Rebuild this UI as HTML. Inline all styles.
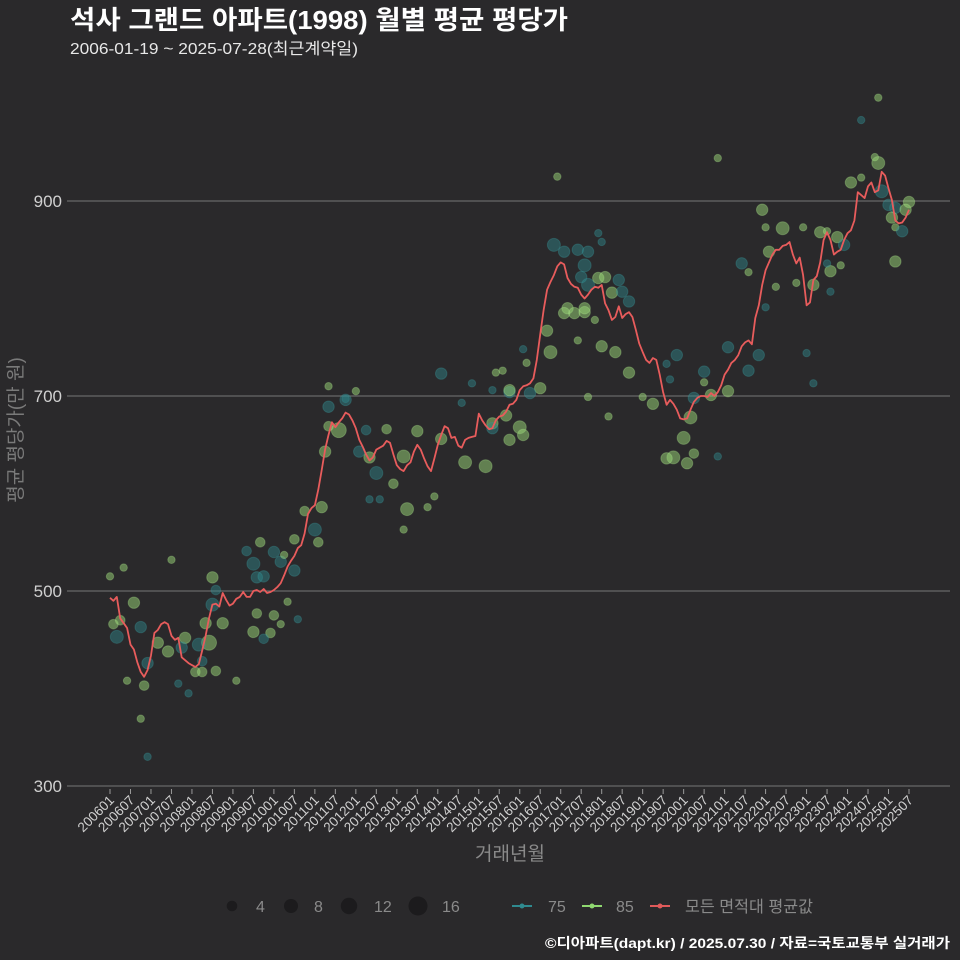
<!DOCTYPE html>
<html><head><meta charset="utf-8">
<style>
html,body{margin:0;padding:0;background:#2a292b;}
svg{display:block;font-family:"Liberation Sans","Noto Sans CJK KR",sans-serif;}
</style></head>
<body>
<svg id="chart" width="960" height="960" viewBox="0 0 960 960">
<rect x="0" y="0" width="960" height="960" fill="#2a292b"/>
<text x="70" y="29" fill="#ffffff" font-size="26" font-weight="bold" textLength="498" lengthAdjust="spacingAndGlyphs">석사 그랜드 아파트(1998) 월별 평균 평당가</text>
<text x="70" y="54" fill="#e8e8e8" font-size="16" textLength="288" lengthAdjust="spacingAndGlyphs">2006-01-19 ~ 2025-07-28(최근계약일)</text>
<g id="grid"></g>
<g id="points"></g>
<g id="line"></g>
<g id="xaxis"></g>
<text x="0" y="0" transform="translate(22,430) rotate(-90)" text-anchor="middle" fill="#7a7a7a" font-size="19">평균 평당가(만 원)</text>
<text x="510" y="860" text-anchor="middle" fill="#8a8a8a" font-size="19">거래년월</text>
<g>
<circle cx="232" cy="906" r="5.3" fill="#1c1b1d"/>
<text x="256" y="912" fill="#8a8a8a" font-size="16">4</text>
<circle cx="291" cy="906" r="7" fill="#1c1b1d"/>
<text x="314" y="912" fill="#8a8a8a" font-size="16">8</text>
<circle cx="349" cy="906" r="8.2" fill="#1c1b1d"/>
<text x="374" y="912" fill="#8a8a8a" font-size="16">12</text>
<circle cx="418" cy="906" r="9.5" fill="#1c1b1d"/>
<text x="442" y="912" fill="#8a8a8a" font-size="16">16</text>
<line x1="512" y1="906" x2="532" y2="906" stroke="#2f8a8f" stroke-width="2"/>
<circle cx="522" cy="906" r="2.5" fill="#2f8a8f"/>
<text x="548" y="912" fill="#8a8a8a" font-size="16">75</text>
<line x1="582" y1="906" x2="602" y2="906" stroke="#8fd870" stroke-width="2"/>
<circle cx="592" cy="906" r="2.5" fill="#8fd870"/>
<text x="616" y="912" fill="#8a8a8a" font-size="16">85</text>
<line x1="650" y1="906" x2="670" y2="906" stroke="#e05a5a" stroke-width="2"/>
<circle cx="660" cy="906" r="2.5" fill="#e05a5a"/>
<text x="685" y="912" fill="#8a8a8a" font-size="16" textLength="128" lengthAdjust="spacingAndGlyphs">모든 면적대 평균값</text>
</g>
<text x="950" y="948" text-anchor="end" fill="#ffffff" font-size="14" font-weight="bold" textLength="405" lengthAdjust="spacingAndGlyphs">©디아파트(dapt.kr) / 2025.07.30 / 자료=국토교통부 실거래가</text>
</svg>
<script>
const yTicks = [300, 500, 700, 900];
const xTickLabels = ["200601","200607","200701","200707","200801","200807","200901","200907","201001","201007","201101","201107","201201","201207","201301","201307","201401","201407","201501","201507","201601","201607","201701","201707","201801","201807","201901","201907","202001","202007","202101","202107","202201","202207","202301","202307","202401","202407","202501","202507"];
const avgValues = [493,490,494,472,467,462,445,440,427,417,412,419,434,457,460,466,468,466,454,450,452,432,429,426,424,422,425,439,454,472,486,487,484,498,491,485,487,492,494,499,494,494,500,501,499,502,498,499,501,504,508,516,525,531,536,544,547,559,579,585,588,604,624,645,660,673,668,673,677,683,681,675,667,655,648,640,634,637,645,647,649,654,652,640,629,625,623,629,632,643,650,645,636,628,623,636,650,660,669,667,657,658,649,647,655,657,658,659,682,675,670,666,667,675,679,680,684,691,692,696,706,710,711,713,718,737,763,788,809,817,824,833,837,835,821,815,812,811,804,800,804,809,812,811,814,795,788,778,781,792,780,784,786,781,768,754,745,737,734,739,737,722,704,691,696,692,686,677,676,677,686,694,698,700,700,699,703,700,704,711,722,727,734,737,742,751,755,757,753,780,793,814,829,837,845,850,850,854,855,858,845,836,842,824,793,796,819,823,837,860,868,860,845,848,850,860,867,870,880,909,906,903,915,919,909,911,930,926,913,901,880,877,878,883,891];
const ptMonth = [0,4,18,7,1,2,3,9,11,10,5,9,11,14,17,22,21,20,23,28,29,26,27,25,27,31,37,33,30,30,31,43,48,42,47,45,50,55,52,40,48,44,42,43,45,50,51,54,57,62,60,61,54,64,72,69,69,64,67,64,63,73,76,78,81,75,83,87,79,76,86,93,95,86,90,97,104,110,117,120,121,116,112,112,112,97,106,103,122,129,117,126,123,130,133,137,140,139,143,144,138,140,143,145,149,147,150,152,134,133,136,139,139,142,128,137,144,148,152,121,115,113,117,140,146,156,159,166,163,164,171,174,174,170,168,165,163,169,171,178,191,192,197,203,208,210,213,215,193,185,187,211,210,214,195,201,206,211,190,192,204,206,217,220,225,224,226,228,230,229,230,234,233,232,230,225,220,181,176,187,181,178,131];
const ptValue = [515,524,532,488,466,453,470,463,426,403,408,369,330,447,438,452,442,405,395,467,447,445,428,417,417,418,408,467,486,514,501,477,475,458,457,451,466,471,489,541,540,550,528,514,515,530,537,521,582,586,563,550,553,710,705,697,696,689,665,669,643,643,637,621,666,665,610,584,594,594,563,586,597,638,664,656,632,628,655,668,660,680,672,667,706,723,713,693,734,745,704,708,703,855,848,850,848,834,867,858,822,814,821,822,819,806,807,797,790,785,785,786,790,778,767,757,751,745,724,748,726,724,706,699,679,699,692,742,733,717,698,725,714,678,657,637,636,631,641,944,891,873,872,873,868,869,863,855,848,836,827,828,836,834,812,816,814,807,742,791,744,713,919,924,939,945,910,896,893,883,873,899,891,869,838,1006,983,705,701,726,750,638,925];
const ptCount = [1,1,1,5,3,7,3,5,5,3,1,1,1,5,5,5,5,1,1,5,10,7,3,3,3,3,1,5,7,5,3,3,3,5,3,3,1,1,1,3,5,3,7,5,5,5,1,5,3,5,7,3,3,1,1,1,5,5,10,3,5,5,5,7,3,3,3,7,1,1,1,1,1,7,5,5,7,7,5,7,5,5,5,5,1,5,1,1,1,7,5,5,5,7,5,5,5,7,1,1,5,7,5,5,5,5,5,5,5,5,5,5,5,1,5,1,5,5,5,1,1,1,5,1,1,1,5,5,1,1,5,5,1,7,7,7,5,5,3,1,5,1,7,1,5,1,5,5,5,5,1,5,1,1,1,1,5,1,5,1,1,1,5,1,7,1,7,5,5,5,1,5,5,5,5,1,1,5,5,5,5,1,1];
const ptArea = ["G","G","G","G","G","T","G","T","T","G","G","G","T","G","G","G","T","T","T","G","G","T","T","G","G","G","G","G","T","G","T","G","G","G","G","T","G","T","G","T","T","G","T","T","T","T","G","T","G","G","T","G","G","G","G","T","T","T","G","G","G","T","G","T","G","T","G","G","T","T","G","G","G","G","G","G","G","G","G","G","G","G","G","T","T","T","T","T","G","G","T","G","T","T","T","T","T","T","T","T","T","T","G","G","T","G","T","T","G","G","G","G","G","G","G","G","G","G","G","T","G","G","G","G","G","G","G","T","T","T","T","T","G","G","G","G","G","G","G","G","G","G","G","G","G","G","G","T","G","T","G","G","T","G","G","G","G","T","T","T","T","T","G","G","G","G","T","T","T","G","G","G","G","T","G","G","T","G","G","T","T","T","G"];

const NS = "http://www.w3.org/2000/svg";
function xScale(m){ return 110 + m * 3.4145; }
function yScale(v){ return 786 - (v - 300) * 0.975; }
function rScale(n){ return Math.sqrt(9 + 4.75 * n); }
function mk(tag, attrs, parent){ const e = document.createElementNS(NS, tag); for (const k in attrs) e.setAttribute(k, attrs[k]); parent.appendChild(e); return e; }

const grid = document.getElementById("grid");
yTicks.forEach(function(t){
  const ln = mk("line", {x1: 67, x2: 950, y1: yScale(t), y2: yScale(t), stroke: "#777", "stroke-width": 1}, grid);
  
  
  const tx = mk("text", {x: 62, y: yScale(t) + 6, "text-anchor": "end", fill: "#d0d0d0", "font-size": 17}, grid);
  
  
  tx.textContent = t;
});

const xaxis = document.getElementById("xaxis");
xTickLabels.forEach(function(lab, i){
  const x = xScale(i * 6);
  const tk = mk("line", {x1: x, x2: x, y1: 789, y2: 794, stroke: "#999", "stroke-width": 1}, xaxis);
  
  
  const tx = mk("text", {x: 0, y: 0, transform: "translate(" + (x + 5) + ",801) rotate(-45)", "text-anchor": "end", fill: "#d0d0d0", "font-size": 13.5}, xaxis);
  
  
  tx.textContent = lab;
});

const pts = document.getElementById("points");
ptMonth.forEach(function(m, i){
  const teal = ptArea[i] === "T";
  const c = mk("circle", {cx: xScale(m), cy: yScale(ptValue[i]), r: rScale(ptCount[i]),
    fill: teal ? "#2f8a8f" : "#9ad878", "fill-opacity": teal ? 0.45 : 0.5,
    stroke: teal ? "#3a9aa0" : "#b0e890", "stroke-opacity": 0.3, "stroke-width": 1}, pts);
  
  
});

const lineG = document.getElementById("line");
const d = avgValues.map(function(v, i){ return (i ? "L" : "M") + xScale(i).toFixed(1) + "," + yScale(v).toFixed(1); }).join("");
const path = mk("path", {d: d, fill: "none", stroke: "#e85c5c", "stroke-width": 1.8, "stroke-linejoin": "round"}, lineG);


</script>
</body></html>
